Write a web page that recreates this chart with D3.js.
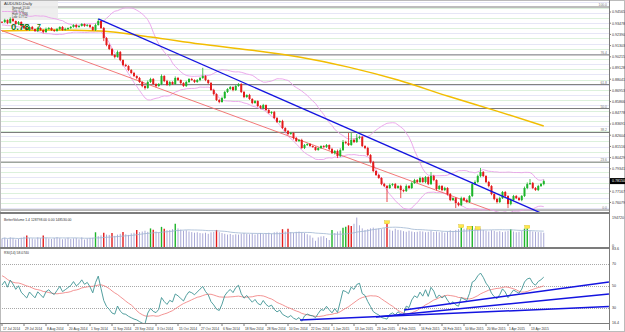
<!DOCTYPE html>
<html>
<head>
<meta charset="utf-8">
<script src="https://cdn.jsdelivr.net/npm/d3@7"></script>
<style>
  body { margin: 0; background: #fff; }
  svg { display: block; font-family: "Liberation Sans", Arial, sans-serif; }
</style>
</head>
<body>
<svg width="625" height="332"></svg>
<script>
// AUDUSD daily, 17 Jul 2014 .. 20 Apr 2015 (one entry per bar)
const preCloses = [0.9272, 0.9290, 0.9305, 0.9320, 0.9350, 0.9385, 0.9400, 0.9410, 0.9395, 0.9360,
  0.9380, 0.9405, 0.9390, 0.9410, 0.9420, 0.9400, 0.9415, 0.9430, 0.9455, 0.9480,
  0.9420, 0.9375, 0.9350, 0.9370, 0.9380, 0.9360, 0.9375, 0.9395, 0.9380, 0.9360];

const closes = [
  0.9359, 0.9379, 0.9350, 0.9389, 0.9369, 0.9340, 0.9359, 0.9321, 0.9301, 0.9282,
  0.9311, 0.9291, 0.9272, 0.9301, 0.9282, 0.9262, 0.9291, 0.9301, 0.9282, 0.9272,
  0.9291, 0.9311, 0.9282, 0.9291, 0.9301, 0.9311, 0.9330, 0.9311, 0.9321, 0.9340,
  0.9321, 0.9330, 0.9311, 0.9282, 0.9330, 0.9369, 0.9301, 0.9204, 0.9136, 0.9097,
  0.9039, 0.9020, 0.9068, 0.8990, 0.8942, 0.8932, 0.8893, 0.8864, 0.8835, 0.8816,
  0.8777, 0.8738, 0.8719, 0.8777, 0.8806, 0.8757, 0.8738, 0.8757, 0.8835, 0.8786,
  0.8748, 0.8777, 0.8757, 0.8816, 0.8796, 0.8767, 0.8738, 0.8777, 0.8806, 0.8796,
  0.8777, 0.8796, 0.8816, 0.8835, 0.8796, 0.8767, 0.8699, 0.8660, 0.8602, 0.8583,
  0.8621, 0.8680, 0.8709, 0.8728, 0.8699, 0.8738, 0.8757, 0.8680, 0.8631, 0.8651,
  0.8612, 0.8573, 0.8592, 0.8544, 0.8524, 0.8553, 0.8505, 0.8476, 0.8485, 0.8427,
  0.8388, 0.8398, 0.8330, 0.8301, 0.8272, 0.8282, 0.8233, 0.8204, 0.8214, 0.8136,
  0.8165, 0.8175, 0.8155, 0.8146, 0.8116, 0.8136, 0.8155, 0.8146, 0.8165, 0.8126,
  0.8087, 0.8107, 0.8058, 0.8116, 0.8194, 0.8184, 0.8165, 0.8214, 0.8194, 0.8233,
  0.8243, 0.8155, 0.8136, 0.8068, 0.8000, 0.7913, 0.7874, 0.7845, 0.7786, 0.7767,
  0.7748, 0.7777, 0.7786, 0.7748, 0.7767, 0.7728, 0.7718, 0.7767, 0.7748, 0.7796,
  0.7825, 0.7806, 0.7845, 0.7806, 0.7854, 0.7786, 0.7864, 0.7825, 0.7738, 0.7767,
  0.7728, 0.7748, 0.7689, 0.7631, 0.7650, 0.7602, 0.7582, 0.7650, 0.7631, 0.7612,
  0.7670, 0.7786, 0.7806, 0.7864, 0.7903, 0.7864, 0.7806, 0.7767, 0.7689, 0.7641,
  0.7612, 0.7650, 0.7709, 0.7670, 0.7592, 0.7631, 0.7670, 0.7650, 0.7631, 0.7670,
  0.7748, 0.7786, 0.7796, 0.7748, 0.7728, 0.7767, 0.7786, 0.7815
];

// wicks beyond the body, in pips
const upperWick = [
  8, 12, 6, 15, 9, 5, 10, 7, 6, 12,
  8, 10, 5, 12, 7, 6, 14, 9, 8, 6,
  11, 7, 9, 13, 6, 10, 8, 12, 7, 9,
  6, 10, 8, 7, 14, 20, 6, 10, 8, 12,
  9, 7, 15, 10, 6, 12, 8, 9, 11, 7,
  10, 8, 6, 14, 12, 9, 7, 10, 16, 8,
  12, 9, 7, 15, 10, 6, 8, 12, 9, 11,
  7, 10, 9, 80, 8, 6, 10, 12, 7, 9,
  14, 11, 8, 10, 7, 12, 9, 8, 10, 6,
  11, 8, 10, 7, 9, 12, 6, 10, 8, 11,
  9, 7, 12, 8, 10, 9, 6, 11, 8, 12,
  10, 7, 9, 6, 5, 8, 7, 9, 10, 6,
  12, 10, 14, 18, 20, 12, 98, 68, 15, 39,
  14, 10, 8, 12, 9, 11, 7, 10, 8, 12,
  10, 14, 9, 11, 8, 12, 7, 16, 10, 13,
  12, 9, 14, 10, 11, 8, 39, 12, 7, 11,
  9, 12, 8, 10, 7, 9, 11, 14, 10, 12,
  9, 12, 16, 14, 39, 10, 8, 11, 9, 7,
  12, 14, 10, 9, 8, 13, 11, 9, 12, 10,
  14, 16, 39, 10, 9, 12, 11, 14
];
const lowerWick = [
  7, 9, 12, 6, 10, 8, 11, 7, 9, 8,
  10, 6, 9, 11, 7, 12, 8, 6, 10, 9,
  7, 11, 8, 6, 9, 10, 7, 12, 8, 6,
  9, 7, 11, 8, 10, 6, 9, 30, 12, 10,
  8, 14, 7, 10, 12, 9, 11, 8, 10, 13,
  9, 12, 15, 8, 10, 9, 12, 7, 10, 11,
  8, 12, 9, 7, 10, 14, 8, 9, 11, 7,
  10, 8, 12, 9, 11, 10, 8, 14, 9, 12,
  7, 9, 10, 8, 12, 9, 7, 10, 11, 8,
  9, 12, 7, 10, 8, 11, 9, 7, 12, 10,
  8, 11, 9, 12, 10, 7, 14, 9, 11, 8,
  10, 9, 7, 8, 6, 5, 9, 8, 10, 12,
  9, 14, 18, 10, 8, 11, 9, 7, 10, 8,
  12, 9, 11, 10, 14, 12, 9, 8, 11, 10,
  136, 9, 12, 10, 8, 78, 11, 9, 12, 10,
  8, 11, 9, 7, 12, 10, 8, 11, 14, 9,
  12, 10, 14, 11, 9, 49, 12, 10, 11, 8,
  9, 10, 8, 11, 12, 9, 10, 13, 11, 12,
  14, 10, 9, 11, 39, 12, 10, 9, 8, 11,
  10, 12, 9, 11, 8, 10, 9, 12
];

// tick volume, thousands
const volumes = [
  55, 60, 50, 62, 58, 48, 52, 60, 66, 75,
  58, 55, 50, 62, 57, 74, 60, 55, 52, 58,
  63, 57, 50, 54, 60, 52, 56, 58, 50, 62,
  48, 55, 58, 60, 95, 70, 75, 92, 80, 78,
  90, 72, 80, 85, 96, 82, 78, 88, 92, 110,
  96, 100, 105, 98, 120, 112, 100, 95, 130, 118,
  108, 110, 115, 150, 120, 112, 105, 108, 100, 96,
  92, 95, 90, 88, 92, 85, 95, 98, 110, 96,
  90, 85, 80, 84, 78, 82, 80, 86, 90, 85,
  82, 88, 80, 86, 90, 84, 88, 92, 86, 95,
  98, 94, 115, 100, 118, 96, 92, 98, 100, 95,
  90, 82, 75, 60, 40, 62, 68, 70, 58, 45,
  110, 90, 100, 105, 125, 130, 140, 135, 150, 190,
  140, 120, 110, 115, 120, 125, 118, 120, 115, 122,
  150, 112, 105, 118, 110, 108, 102, 98, 105, 100,
  96, 98, 102, 100, 95, 98, 104, 96, 100, 95,
  98, 92, 100, 108, 104, 110, 115, 125, 118, 120,
  115, 135, 120, 112, 118, 110, 105, 100, 108, 104,
  98, 102, 96, 100, 104, 115, 100, 95, 98, 104,
  118, 120, 105, 100, 98, 96, 95, 92
];
const redVolBars = [9, 15, 37, 40, 44, 49, 55, 59, 78, 102, 104, 126, 127, 140];
const greenVolBars = [34, 54, 58, 63, 120, 124, 125, 167, 171, 185, 190, 191];
const flaggedVolBars = [140, 167, 170, 173, 191];

const dateLabels = ["17 Jul 2014", "29 Jul 2014", "8 Aug 2014", "20 Aug 2014", "1 Sep 2014",
  "11 Sep 2014", "23 Sep 2014", "3 Oct 2014", "15 Oct 2014", "27 Oct 2014", "6 Nov 2014",
  "18 Nov 2014", "28 Nov 2014", "10 Dec 2014", "22 Dec 2014", "1 Jan 2015", "13 Jan 2015",
  "23 Jan 2015", "4 Feb 2015", "16 Feb 2015", "26 Feb 2015", "10 Mar 2015", "20 Mar 2015",
  "1 Apr 2015", "13 Apr 2015"];
const priceTicks = [0.94565, 0.93478, 0.92390, 0.91303, 0.90215, 0.89128, 0.88041, 0.86953,
  0.85866, 0.84778, 0.83691, 0.82604, 0.81516, 0.80429, 0.79341, 0.78254, 0.77167, 0.76079];
const rsiTicks = [83.6, 70, 50, 30, 16.4];
const rsiLevels = [70, 50, 30];

const fibHigh = 0.9505, fibLow = 0.7534;
const fibLevels = [0, 23.6, 38.2, 50, 61.8, 76.4, 100];

// long moving average, read at a few bars
const maBars = [0, 18, 36, 54, 72, 90, 108, 126, 144, 162, 180, 197];
const maValues = [0.9272, 0.9282, 0.9272, 0.9214, 0.9146, 0.9088, 0.9020, 0.8922, 0.8796, 0.8641, 0.8495, 0.8350];

// hand drawn lines: [bar, value]
const blueTrend = [[35, 0.9389], [196, 0.7505]];
const redTrend = [[-0.7, 0.9282], [177.5, 0.7534]];
const rsiTrends = [
  [[108.4, 19.1], [220.7, 31.4]],
  [[136, 21.8], [220.7, 42.7]],
  [[146.2, 28.2], [220.7, 53.6]]
];

const W = 625, H = 332, plotR = 609;
const pane = { priceB: 212, volT: 214, volB: 247, rsiT: 249, rsiB: 323 };
const UP = '#1db52a', DOWN = '#e41b1b';

const svg = d3.select('svg');
svg.append('rect').attr('width', W).attr('height', H).attr('fill', '#fff');

const x = d3.scaleLinear().domain([0, 197]).range([2, 2 + 197 * 2.75]);
const y = d3.scaleLinear().domain([0.7515, 0.9573]).range([pane.priceB, 0]);
const yv = d3.scaleLinear().domain([0, 200]).range([pane.volB, 216]);
const yr = d3.scaleLinear().domain([16.4, 83.6]).range([pane.rsiB, pane.rsiT]);

const defs = svg.append('defs');
defs.append('clipPath').attr('id', 'clip-price')
  .append('rect').attr('width', plotR).attr('height', pane.priceB);
defs.append('clipPath').attr('id', 'clip-rsi')
  .append('rect').attr('y', pane.rsiT).attr('width', plotR).attr('height', pane.rsiB - pane.rsiT);

// indicators
const all = preCloses.concat(closes);
const off = preCloses.length;

const bands = closes.map((c, i) => {
  const w = all.slice(i + off - 19, i + off + 1);
  const m = d3.mean(w), s = d3.deviation(w) * Math.sqrt((w.length - 1) / w.length);
  return { up: m + 2 * s, lo: m - 2 * s };
});

const rsiAll = [];
let ag = 0, al = 0;
for (let j = 1; j < all.length; j++) {
  const d = all[j] - all[j - 1];
  const g = Math.max(d, 0), l = Math.max(-d, 0);
  if (j <= 14) { ag += g / 14; al += l / 14; }
  else { ag = (ag * 13 + g) / 14; al = (al * 13 + l) / 14; }
  rsiAll[j] = j >= 14 ? (al === 0 ? 100 : 100 - 100 / (1 + ag / al)) : null;
}
const rsi = closes.map((c, i) => rsiAll[i + off]);
const rsiMa = closes.map((c, i) => d3.mean(rsiAll.slice(i + off - 13, i + off + 1)));
const volMa = volumes.map((v, i) => d3.mean(volumes.slice(Math.max(0, i - 19), i + 1)));

// ---------- price pane ----------
const pg = svg.append('g').attr('clip-path', 'url(#clip-price)');

const gridSteps = d3.range(Math.ceil(y.domain()[0] / 0.005), Math.floor(y.domain()[1] / 0.005) + 1);
pg.selectAll('.grid').data(gridSteps).join('line')
  .attr('x1', 0).attr('x2', plotR)
  .attr('y1', d => Math.round(y(d * 0.005)) + 0.5).attr('y2', d => Math.round(y(d * 0.005)) + 0.5)
  .attr('stroke', d => d % 2 === 0 ? '#dcf1dc' : '#e6e6f6').attr('stroke-width', 1);

const fibPrice = l => fibLow + (fibHigh - fibLow) * l / 100;
pg.selectAll('.fib').data(fibLevels).join('line')
  .attr('x1', 0).attr('x2', plotR)
  .attr('y1', d => y(fibPrice(d))).attr('y2', d => y(fibPrice(d)))
  .attr('stroke', '#7a7a7a').attr('stroke-width', 1);
svg.selectAll('.fibtxt').data(fibLevels).join('text')
  .attr('x', 607).attr('y', d => y(fibPrice(d)) - 1)
  .attr('text-anchor', 'end').attr('font-size', 3.4).attr('fill', '#777')
  .text(d => d.toFixed(1));

// info box
pg.append('rect').attr('x', 1).attr('y', 1).attr('width', 57).attr('height', 19)
  .attr('fill', '#ececec').attr('opacity', 0.9);

const bandLine = key => d3.line().x((d, i) => x(i)).y(d => y(d[key]));
pg.append('path').attr('d', bandLine('up')(bands)).attr('fill', 'none').attr('stroke', '#eaa2ea').attr('stroke-width', 0.9);
pg.append('path').attr('d', bandLine('lo')(bands)).attr('fill', 'none').attr('stroke', '#eaa2ea').attr('stroke-width', 0.9);

pg.append('path')
  .attr('d', d3.line().curve(d3.curveMonotoneX).x(d => x(d[0])).y(d => y(d[1]))(maBars.map((b, i) => [b, maValues[i]])))
  .attr('fill', 'none').attr('stroke', '#f2bd00').attr('stroke-width', 1.4);

const seg = d3.line().x(d => x(d[0])).y(d => y(d[1]));
pg.append('path').attr('d', seg(redTrend)).attr('stroke', '#f06a6a').attr('stroke-width', 0.9).attr('fill', 'none');

const candles = closes.map((c, i) => {
  const o = i === 0 ? preCloses[preCloses.length - 1] : closes[i - 1];
  return { i, o, c, h: Math.max(o, c) + upperWick[i] / 10000, l: Math.min(o, c) - lowerWick[i] / 10000 };
});
const cg = pg.selectAll('.candle').data(candles).join('g').attr('class', 'candle');
cg.append('line')
  .attr('x1', d => x(d.i)).attr('x2', d => x(d.i))
  .attr('y1', d => y(d.h)).attr('y2', d => y(d.l))
  .attr('stroke', d => d.c >= d.o ? UP : DOWN).attr('stroke-width', 0.8);
cg.append('rect')
  .attr('x', d => x(d.i) - 1).attr('width', 2)
  .attr('y', d => y(Math.max(d.o, d.c)))
  .attr('height', d => Math.max(0.8, Math.abs(y(d.o) - y(d.c))))
  .attr('fill', d => d.c >= d.o ? UP : DOWN);

pg.append('path').attr('d', seg(blueTrend)).attr('stroke', '#1414e0').attr('stroke-width', 1.3).attr('fill', 'none');

// info box text
const info = svg.append('g').attr('fill', '#333').attr('font-size', 3.6);
info.append('text').attr('x', 4).attr('y', 5).attr('font-size', 4.2).text('AUDUSD,Daily');
['Spread: 15.00', 'Tick: 0.22', 'High: 0.7836', 'Low: 0.7712'].forEach((t, k) =>
  info.append('text').attr('x', 12).attr('y', 9 + k * 3).attr('font-size', 2.8).text(t));
svg.append('text').attr('x', 11).attr('y', 30).attr('font-size', 9.5).attr('font-weight', 'bold')
  .attr('fill', '#0f7a16').text('0.78');
svg.append('text').attr('x', 37).attr('y', 29).attr('font-size', 7).attr('font-weight', 'bold')
  .attr('fill', '#0f7a16').text('7');

// ---------- volume pane ----------
const colorOf = i => redVolBars.includes(i) ? DOWN : greenVolBars.includes(i) ? UP : '#a9a9d6';
svg.selectAll('.vol').data(volumes).join('line')
  .attr('x1', (d, i) => x(i)).attr('x2', (d, i) => x(i))
  .attr('y1', yv(0)).attr('y2', d => yv(d))
  .attr('stroke', (d, i) => colorOf(i))
  .attr('stroke-width', (d, i) => colorOf(i) === '#a9a9d6' ? 1 : 1.4);
svg.append('path')
  .attr('d', d3.line().x((d, i) => x(i)).y(d => yv(d))(volMa))
  .attr('fill', 'none').attr('stroke', '#9fb6d2').attr('stroke-width', 0.8);
svg.selectAll('.flag').data(flaggedVolBars).join('rect')
  .attr('x', d => x(d) - 2.5).attr('y', d => yv(volumes[d]) - 3)
  .attr('width', 5).attr('height', 3)
  .attr('fill', '#ffe84a').attr('stroke', '#c8a800').attr('stroke-width', 0.3);
svg.append('text').attr('x', 4).attr('y', 221).attr('font-size', 3.4).attr('fill', '#333')
  .text('BetterVolume 1.4  128798.00  0.00  148530.00');

// ---------- RSI pane ----------
svg.selectAll('.lvl').data(rsiLevels).join('line')
  .attr('x1', 0).attr('x2', plotR)
  .attr('y1', d => Math.round(yr(d)) + 0.5).attr('y2', d => Math.round(yr(d)) + 0.5)
  .attr('stroke', '#a8a8a8').attr('stroke-dasharray', '1,1');
const rg = svg.append('g').attr('clip-path', 'url(#clip-rsi)');
const rline = d3.line().x((d, i) => x(i)).y(d => yr(d));
rg.append('path').attr('d', rline(rsiMa)).attr('fill', 'none').attr('stroke', '#f07878').attr('stroke-width', 0.8);
rg.append('path').attr('d', rline(rsi)).attr('fill', 'none').attr('stroke', '#3f9494').attr('stroke-width', 0.9);
const rseg = d3.line().x(d => x(d[0])).y(d => yr(d[1]));
rg.selectAll('.rt').data(rsiTrends).join('path')
  .attr('d', d => rseg(d)).attr('fill', 'none').attr('stroke', '#1414e0').attr('stroke-width', 1.5);
svg.append('text').attr('x', 4).attr('y', 254).attr('font-size', 3.4).attr('fill', '#333')
  .text('RSI(14) ' + rsi[rsi.length - 1].toFixed(4));

// ---------- frames ----------
const frame = svg.append('g').attr('stroke', '#7c7c7c').attr('fill', 'none');
frame.append('rect').attr('x', 0.5).attr('y', 0.5).attr('width', W - 1).attr('height', H - 1).attr('stroke', '#bbb');
frame.append('line').attr('x1', 0).attr('x2', plotR).attr('y1', 213).attr('y2', 213).attr('stroke-width', 2);
frame.append('line').attr('x1', 0).attr('x2', plotR).attr('y1', 248).attr('y2', 248).attr('stroke-width', 2);
frame.append('line').attr('x1', 0).attr('x2', plotR).attr('y1', pane.rsiB + 0.5).attr('y2', pane.rsiB + 0.5);
frame.append('line').attr('x1', plotR + 0.5).attr('x2', plotR + 0.5).attr('y1', 0).attr('y2', 330);

// ---------- right axes ----------
const ax = svg.append('g').attr('font-size', 3.6).attr('fill', '#333');
priceTicks.forEach(p => {
  ax.append('line').attr('x1', plotR).attr('x2', plotR + 2).attr('y1', y(p)).attr('y2', y(p)).attr('stroke', '#7c7c7c');
  ax.append('text').attr('x', 612).attr('y', y(p) + 1.4).text(p.toFixed(5));
});
const last = closes[closes.length - 1];
ax.append('rect').attr('x', plotR + 1).attr('y', y(last) - 3).attr('width', 15).attr('height', 6).attr('fill', '#000');
ax.append('text').attr('x', 612).attr('y', y(last) + 1.4).attr('fill', '#fff').text(last.toFixed(5));
ax.append('text').attr('x', 612).attr('y', 219).text('194720');
ax.append('text').attr('x', 612).attr('y', yv(0)).text('0');
rsiTicks.forEach(r => ax.append('text').attr('x', 612).attr('y', yr(r) + 1.4).text(r));

// ---------- time axis ----------
const tg = svg.append('g').attr('font-size', 3.3).attr('fill', '#333');
dateLabels.forEach((t, k) => {
  tg.append('line').attr('x1', x(k * 8)).attr('x2', x(k * 8)).attr('y1', pane.rsiB).attr('y2', pane.rsiB + 3).attr('stroke', '#7c7c7c');
  tg.append('text').attr('x', x(k * 8) + 1).attr('y', 329.5).text(t);
});
</script>
</body>
</html>
